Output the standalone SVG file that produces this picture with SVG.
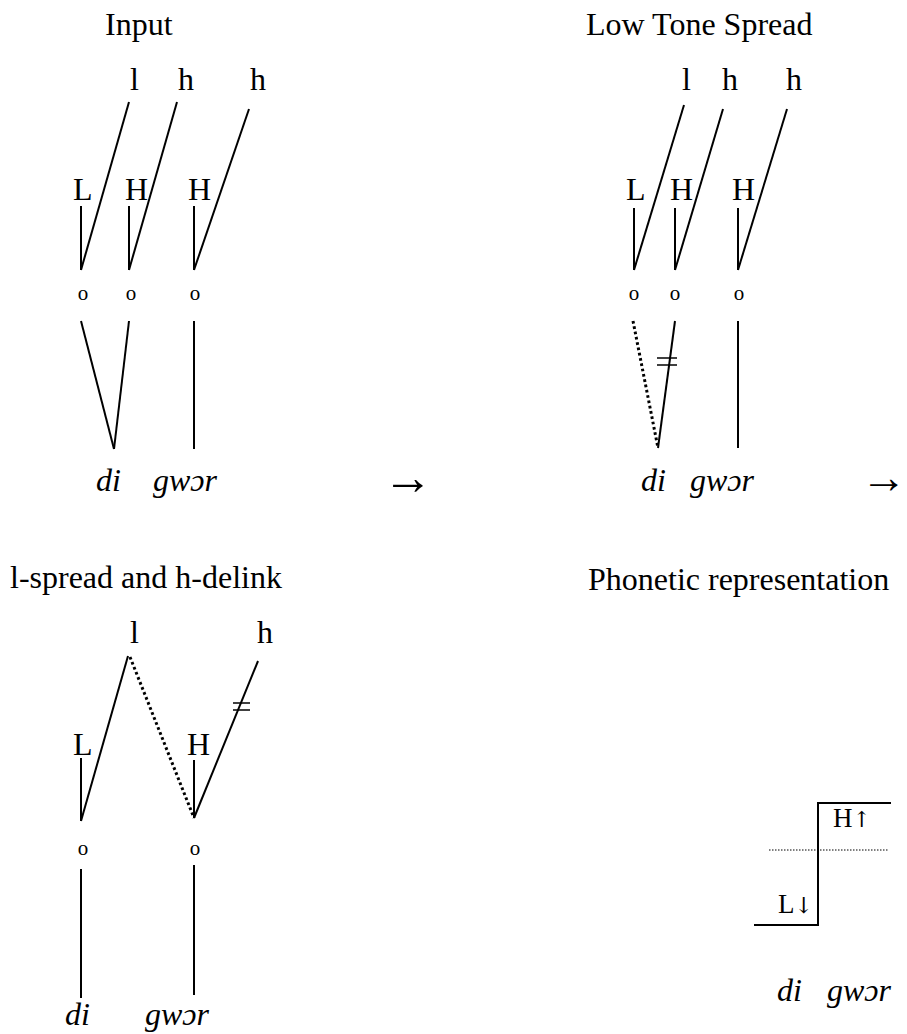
<svg xmlns="http://www.w3.org/2000/svg" width="907" height="1034" viewBox="0 0 907 1034">
<style>
text{font-family:"Liberation Serif","Times New Roman",serif;fill:#000}
.t{font-size:32px}
.o{font-size:21px;text-anchor:middle}
.it{font-size:32px;font-style:italic}
.s{font-size:27px}
.ar{font-size:50px}
.ar2{font-size:46px;text-anchor:end}
.sa{font-family:"DejaVu Serif",serif;font-size:22px}
.ln{stroke:#000;stroke-width:2;fill:none}
.dot{stroke:#000;stroke-width:3;fill:none;stroke-dasharray:2.7 2.7}
.dl{stroke:#000;stroke-width:1.5}
.thin{stroke:#000;stroke-width:1;stroke-dasharray:1.5 1.5}
</style>
<rect width="907" height="1034" fill="#fff"/>
<g id="connectors">
  <line class="ln" x1="129" y1="102" x2="81" y2="270"/>
  <line class="ln" x1="177" y1="102" x2="129" y2="270"/>
  <line class="ln" x1="249" y1="109" x2="194" y2="270"/>
  <line class="ln" x1="81" y1="206" x2="81" y2="270"/>
  <line class="ln" x1="129" y1="206" x2="129" y2="270"/>
  <line class="ln" x1="194" y1="206" x2="194" y2="270"/>
  <line class="ln" x1="81" y1="321" x2="114" y2="449"/>
  <line class="ln" x1="129" y1="321" x2="114" y2="449"/>
  <line class="ln" x1="194" y1="321" x2="194" y2="449"/>
  <line class="ln" x1="684" y1="105" x2="634" y2="270"/>
  <line class="ln" x1="723" y1="109" x2="675" y2="270"/>
  <line class="ln" x1="787" y1="109" x2="738" y2="270"/>
  <line class="ln" x1="634" y1="208" x2="634" y2="270"/>
  <line class="ln" x1="675" y1="208" x2="675" y2="270"/>
  <line class="ln" x1="738" y1="208" x2="738" y2="270"/>
  <line class="dot" x1="633" y1="321" x2="658" y2="448"/>
  <line class="ln" x1="675" y1="321" x2="658" y2="448"/>
  <line class="ln" x1="738" y1="321" x2="738" y2="448"/>
  <line class="dl" x1="657" y1="358" x2="677" y2="358"/>
  <line class="dl" x1="657" y1="365" x2="677" y2="365"/>
  <line class="ln" x1="128" y1="656" x2="81" y2="821"/>
  <line class="dot" x1="130" y1="657" x2="194" y2="818"/>
  <line class="ln" x1="258" y1="661" x2="194" y2="818"/>
  <line class="dl" x1="233" y1="703" x2="250" y2="703"/>
  <line class="dl" x1="233" y1="710" x2="250" y2="710"/>
  <line class="ln" x1="81" y1="758" x2="81" y2="821"/>
  <line class="ln" x1="194" y1="760" x2="194" y2="818"/>
  <line class="ln" x1="81" y1="869" x2="81" y2="998"/>
  <line class="ln" x1="194" y1="865" x2="194" y2="995"/>
  <polyline class="ln" points="754,925 818,925 818,803 891,803"/>
  <line class="thin" x1="769" y1="850" x2="888" y2="850"/>
</g>
<g id="panel-input">
  <text class="t" x="105" y="35">Input</text>
  <text class="t" x="130" y="90">l</text>
  <text class="t" x="178" y="90">h</text>
  <text class="t" x="250" y="90">h</text>
  <text class="t" x="73" y="200">L</text>
  <text class="t" x="125" y="200">H</text>
  <text class="t" x="188" y="200">H</text>
  <text class="o" x="83" y="300">o</text>
  <text class="o" x="131" y="300">o</text>
  <text class="o" x="195" y="300">o</text>
  <text class="it" x="96" y="491">di</text>
  <text class="it" x="153" y="491">gwɔr</text>
  <text class="ar" x="383" y="494">→</text>
</g>
<g id="panel-low-tone-spread">
  <text class="t" x="586" y="35">Low Tone Spread</text>
  <text class="t" x="682" y="90">l</text>
  <text class="t" x="722" y="90">h</text>
  <text class="t" x="786" y="90">h</text>
  <text class="t" x="626" y="200">L</text>
  <text class="t" x="670" y="200">H</text>
  <text class="t" x="732" y="200">H</text>
  <text class="o" x="634" y="300">o</text>
  <text class="o" x="675" y="300">o</text>
  <text class="o" x="739" y="300">o</text>
  <text class="it" x="641" y="491">di</text>
  <text class="it" x="690" y="491">gwɔr</text>
  <text class="ar2" x="907" y="493">→</text>
</g>
<g id="panel-l-spread">
  <text class="t" x="10" y="588">l-spread and h-delink</text>
  <text class="t" x="130" y="643">l</text>
  <text class="t" x="257" y="643">h</text>
  <text class="t" x="73" y="755">L</text>
  <text class="t" x="187" y="755">H</text>
  <text class="o" x="83" y="855">o</text>
  <text class="o" x="195" y="855">o</text>
  <text class="it" x="65" y="1025">di</text>
  <text class="it" x="145" y="1025">gwɔr</text>
</g>
<g id="panel-phonetic">
  <text class="t" x="588" y="590">Phonetic representation</text>
  <text class="s" x="833" y="827">H<tspan class="sa">↑</tspan></text>
  <text class="s" x="778" y="913">L<tspan class="sa">↓</tspan></text>
  <text class="it" x="777" y="1001">di</text>
  <text class="it" x="827" y="1001">gwɔr</text>
</g>
</svg>
